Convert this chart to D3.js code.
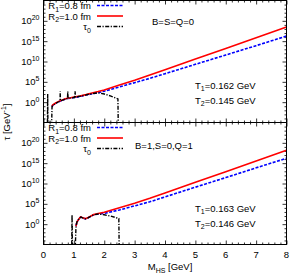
<!DOCTYPE html>
<html>
<head>
<meta charset="utf-8">
<script src="https://cdn.jsdelivr.net/npm/d3@7"></script>
<style>
  body { margin: 0; background: #fff; }
  svg { display: block; font-family: "Liberation Sans", Arial, sans-serif; }
</style>
</head>
<body>
<svg id="chart" width="292" height="273"></svg>
<script>
// ---- data (tau values given as log10) ----
var xTicks = [0, 1, 2, 3, 4, 5, 6, 7, 8];
var yTickExp = [0, 5, 10, 15, 20];

// B=S=Q=0 panel
var massTop = [0.28, 0.30, 0.40, 0.50, 0.60, 0.70, 0.80, 0.90, 1.00, 1.20, 1.40, 1.60, 1.80, 2.00, 2.50, 3.00, 3.50, 4.00, 5.00, 6.00, 7.00, 8.00];
var r1Top = [-1.2, -0.8, -0.3, 0.1, 0.4, 0.7, 0.9, 1.0, 1.15, 1.4, 1.75, 2.05, 2.35, 2.7, 3.75, 4.8, 5.86, 7.0, 9.3, 11.6, 13.9, 16.25];
var r2Top = [-1.1, -0.7, -0.2, 0.2, 0.5, 0.8, 1.0, 1.1, 1.25, 1.5, 1.85, 2.25, 2.6, 3.0, 4.2, 5.4, 6.7, 8.0, 10.6, 13.2, 15.85, 18.5];
var tau0MassTop = [0.13, 0.138, 0.145, 0.27, 0.28, 0.30, 0.40, 0.50, 0.545, 0.55, 0.555, 0.60, 0.70, 0.79, 0.80, 0.81, 0.90, 1.00, 1.03, 1.04, 1.05, 1.20, 1.40, 1.60, 1.80, 2.00, 2.20, 2.45, 2.46];
var tau0Top = [-5, 2.0, -5, -5, -1.3, -0.8, -0.3, 0.1, 0.3, 2.7, 0.35, 0.45, 0.7, 0.9, 2.6, 0.95, 1.05, 1.15, 1.2, 2.7, 1.2, 1.45, 1.8, 2.1, 2.3, 2.0, 1.55, 0.8, -5];

// B=1,S=0,Q=1 panel
var massBot = [1.07, 1.10, 1.15, 1.20, 1.23, 1.30, 1.38, 1.45, 1.55, 1.65, 1.80, 2.00, 2.50, 3.00, 3.50, 4.00, 5.00, 6.00, 7.00, 8.00];
var r1Bot = [-0.5, 0.5, 1.1, 1.6, 1.75, 1.5, 1.3, 1.5, 1.9, 2.3, 2.5, 2.65, 3.5, 4.5, 5.5, 6.7, 9.1, 11.45, 13.85, 16.2];
var r2Bot = [-0.5, 0.5, 1.1, 1.6, 1.8, 1.55, 1.35, 1.55, 1.95, 2.35, 2.6, 2.95, 4.05, 5.15, 6.35, 7.65, 10.3, 12.9, 15.55, 18.2];
var tau0MassBot = [0.93, 0.94, 0.95, 1.05, 1.07, 1.10, 1.15, 1.20, 1.23, 1.30, 1.38, 1.45, 1.55, 1.65, 1.80, 2.00, 2.20, 2.48, 2.49];
var tau0Bot = [-5, 2.3, -5, -5, -0.5, 0.5, 1.1, 1.6, 1.75, 1.5, 1.3, 1.5, 1.9, 2.3, 2.5, 2.3, 2.0, 1.4, -5];

var panels = [
  { top: 0.5, bottom: 122.5, label: "B=S=Q=0", labelX: 152, labelY: 25,
    t1: "0.162", t2: "0.145", tY: 88.5,
    mass: massTop, r1: r1Top, r2: r2Top, m0: tau0MassTop, t0: tau0Top },
  { top: 122.5, bottom: 244.5, label: "B=1,S=0,Q=1", labelX: 135, labelY: 148.5,
    t1: "0.163", t2: "0.146", tY: 211.5,
    mass: massBot, r1: r1Bot, r2: r2Bot, m0: tau0MassBot, t0: tau0Bot }
];

var left = 43.5, right = 286.5;
var svg = d3.select("#chart");

var x = d3.scaleLinear().domain([0, 8]).range([left, right]);

var minorX = d3.range(0, 8.001, 0.2).filter(function (d) { return Math.abs(d - Math.round(d)) > 0.01; });
var minorY = d3.range(-4, 25).filter(function (e) { return e % 5 !== 0; }).map(function (e) { return Math.pow(10, e); });

function styleAxis(g) {
  g.select(".domain").remove();
  g.selectAll(".tick line").attr("stroke", "#000").attr("stroke-width", 0.8);
}

panels.forEach(function (p, i) {
  var y = d3.scaleLog().domain([1e-5, 1e25]).range([p.bottom, p.top]);
  var id = "clip" + i;

  svg.append("clipPath").attr("id", id)
    .append("rect")
    .attr("x", left).attr("y", p.top)
    .attr("width", right - left).attr("height", p.bottom - p.top);

  // ticks, pointing inwards, mirrored on all sides
  svg.append("g").attr("transform", "translate(" + left + ",0)")
    .call(d3.axisLeft(y).tickValues(yTickExp.map(function (e) { return Math.pow(10, e); })).tickSize(-4).tickFormat(""))
    .call(styleAxis);
  svg.append("g").attr("transform", "translate(" + left + ",0)")
    .call(d3.axisLeft(y).tickValues(minorY).tickSize(-2).tickFormat(""))
    .call(styleAxis);
  svg.append("g").attr("transform", "translate(" + right + ",0)")
    .call(d3.axisRight(y).tickValues(yTickExp.map(function (e) { return Math.pow(10, e); })).tickSize(-4).tickFormat(""))
    .call(styleAxis);
  svg.append("g").attr("transform", "translate(" + right + ",0)")
    .call(d3.axisRight(y).tickValues(minorY).tickSize(-2).tickFormat(""))
    .call(styleAxis);
  svg.append("g").attr("transform", "translate(0," + p.bottom + ")")
    .call(d3.axisBottom(x).tickValues(xTicks).tickSize(-4).tickFormat(""))
    .call(styleAxis);
  svg.append("g").attr("transform", "translate(0," + p.bottom + ")")
    .call(d3.axisBottom(x).tickValues(minorX).tickSize(-2).tickFormat(""))
    .call(styleAxis);
  svg.append("g").attr("transform", "translate(0," + p.top + ")")
    .call(d3.axisTop(x).tickValues(xTicks).tickSize(-4).tickFormat(""))
    .call(styleAxis);
  svg.append("g").attr("transform", "translate(0," + p.top + ")")
    .call(d3.axisTop(x).tickValues(minorX).tickSize(-2).tickFormat(""))
    .call(styleAxis);

  // y tick labels 10^n
  yTickExp.forEach(function (e) {
    var t = svg.append("text")
      .attr("x", left - 4).attr("y", y(Math.pow(10, e)) + 3.5)
      .attr("text-anchor", "end").attr("font-size", 9.5);
    t.append("tspan").text("10");
    t.append("tspan").attr("dy", -4).attr("font-size", 7).text(e);
  });

  // curves
  var line = d3.line()
    .x(function (d) { return x(d[0]); })
    .y(function (d) { return y(Math.pow(10, d[1])); });
  var plot = svg.append("g").attr("clip-path", "url(#" + id + ")");

  plot.append("path").datum(d3.zip(p.mass, p.r1))
    .attr("d", line).attr("fill", "none")
    .attr("stroke", "#0000ff").attr("stroke-width", 1.6).attr("stroke-dasharray", "3,1.5");
  plot.append("path").datum(d3.zip(p.mass, p.r2))
    .attr("d", line).attr("fill", "none")
    .attr("stroke", "#ff0000").attr("stroke-width", 1.6);
  plot.append("path").datum(d3.zip(p.m0, p.t0))
    .attr("d", line).attr("fill", "none")
    .attr("stroke", "#000").attr("stroke-width", 1.4).attr("stroke-dasharray", "4,1.5,1.2,1.5");

  // legend
  var legend = [
    { name: "R", sub: "1", rest: "=0.8 fm", color: "#0000ff", dash: "3,1.5" },
    { name: "R", sub: "2", rest: "=1.0 fm", color: "#ff0000", dash: null },
    { name: "\u03c4", sub: "0", rest: "", color: "#000", dash: "4,1.5,1.2,1.5" }
  ];
  legend.forEach(function (l, k) {
    var ly = p.top + 5 + k * 10.5;
    var t = svg.append("text")
      .attr("x", 91).attr("y", ly + 3.5)
      .attr("text-anchor", "end").attr("font-size", 9.5);
    t.append("tspan").text(l.name);
    t.append("tspan").attr("dy", 2.5).attr("font-size", 7).text(l.sub);
    if (l.rest) t.append("tspan").attr("dy", -2.5).text(l.rest);
    svg.append("line")
      .attr("x1", 97).attr("x2", 123).attr("y1", ly).attr("y2", ly)
      .attr("stroke", l.color).attr("stroke-width", 1.6)
      .attr("stroke-dasharray", l.dash);
  });

  // annotations
  svg.append("text").attr("x", p.labelX).attr("y", p.labelY)
    .attr("font-size", 9.5).text(p.label);
  [["1", p.t1], ["2", p.t2]].forEach(function (tt, k) {
    var t = svg.append("text").attr("x", 195).attr("y", p.tY + k * 15)
      .attr("font-size", 9.5);
    t.append("tspan").text("T");
    t.append("tspan").attr("dy", 2.5).attr("font-size", 7).text(tt[0]);
    t.append("tspan").attr("dy", -2.5).text("=" + tt[1] + " GeV");
  });

  // frame
  svg.append("rect")
    .attr("x", left).attr("y", p.top)
    .attr("width", right - left).attr("height", p.bottom - p.top)
    .attr("fill", "none").attr("stroke", "#000").attr("stroke-width", 1);
});

// x tick labels (bottom panel only)
svg.append("g").selectAll("text").data(xTicks).join("text")
  .attr("x", function (d) { return x(d); }).attr("y", 257.5)
  .attr("text-anchor", "middle").attr("font-size", 9.5)
  .text(function (d) { return d; });

// axis titles
var xl = svg.append("text").attr("x", 170).attr("y", 270)
  .attr("text-anchor", "middle").attr("font-size", 9.5);
xl.append("tspan").text("M");
xl.append("tspan").attr("dy", 2.5).attr("font-size", 7).text("HS");
xl.append("tspan").attr("dy", -2.5).text(" [GeV]");

var yl = svg.append("text")
  .attr("transform", "translate(10,122) rotate(-90)")
  .attr("text-anchor", "middle").attr("font-size", 9.5);
yl.append("tspan").text("\u03c4 [GeV");
yl.append("tspan").attr("dy", -4).attr("font-size", 7).text("-1");
yl.append("tspan").attr("dy", 4).text("]");
</script>
</body>
</html>
